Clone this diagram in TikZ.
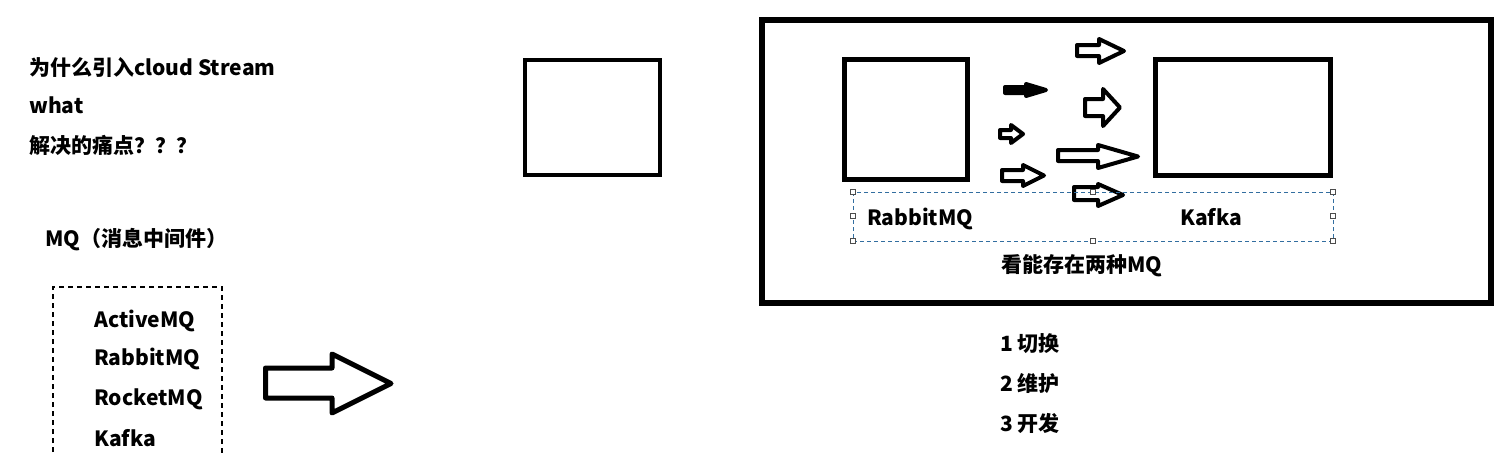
\documentclass[tikz,border=0pt]{standalone}
\usepackage{fontspec}
\setmainfont{Noto Sans CJK SC}
\definecolor{selblue}{RGB}{50,110,160}
\newcommand\blkarrow[8][]{% left, headbase, tip, shafttop, shaftbottom, headtop, headbottom
  \draw[arr,#1] (#2,#5) -- (#3,#5) -- (#3,#7) -- (#4,{(#7+#8)/2}) -- (#3,#8) -- (#3,#6) -- (#2,#6) -- cycle;}
\begin{document}
\begin{tikzpicture}[x=1pt,y=-1pt,
  txt/.style={anchor=west,inner sep=0pt,font=\bfseries\fontsize{21}{21}\selectfont},
  boxed/.style={draw,line width=5pt,inner sep=0pt},
  arr/.style={draw,line width=4pt,line join=round,fill=white},
  handle/.style={draw=gray!60!black,fill=white,line width=0.6pt,minimum size=5pt,inner sep=0pt}]
\useasboundingbox (0,0) rectangle (1506,453);
% left texts
\node[txt] (t1) at (29,67) {为什么引入cloud Stream};
\node[txt] (t2) at (29,105) {what};
\node[txt] (t3) at (29,145) {解决的痛点？？？};
\node[txt] (t4) at (45,240) {MQ（消息中间件）};
\draw[line width=1.2pt,dash pattern=on 5pt off 4pt] (53,470) -- (53,287) -- (222,287) -- (222,470);
\node[txt] (m1) at (94,321) {ActiveMQ};
\node[txt] (m2) at (94,359) {RabbitMQ};
\node[txt] (m3) at (94,399) {RocketMQ};
\node[txt] (m4) at (94,438) {Kafka};
\blkarrow[line width=5pt]{265.5}{332}{391}{368}{398}{354}{413}
% middle square
\node[boxed,line width=4.5pt,minimum width=135pt,minimum height=115pt] (sq) at (592.5,117.5) {};
% big frame
\node[boxed,line width=6.5pt,minimum width=729pt,minimum height=283pt] (frame) at (1126.5,161.5) {};
\node[boxed,line width=5.5pt,minimum width=123pt,minimum height=120pt] (rb) at (906,119.5) {};
\node[boxed,line width=5.5pt,minimum width=175pt,minimum height=116pt] (kf) at (1243,117.5) {};
% arrows
\blkarrow{1077}{1099}{1124}{45}{56}{39}{63}
\blkarrow[fill=black]{1005}{1026}{1046}{87}{93}{84}{96}
\blkarrow{1085}{1103}{1120}{99}{116}{89}{126}
\blkarrow{1000}{1011}{1023}{130}{138}{125}{143}
\blkarrow{1058}{1098}{1138}{150}{161}{145}{168}
\blkarrow{1002}{1023}{1044}{170}{181}{165}{186}
\blkarrow{1074}{1098}{1123}{187}{200}{184}{206}
% selection box
\draw[selblue,line width=1pt,dash pattern=on 4pt off 3pt] (853,192) rectangle (1333,241);
\foreach \p in {(853,192),(853,216),(853,241),(1093,192),(1093,241),(1333,192),(1333,216),(1333,241)}
  \node[handle] at \p {};
\node[txt] (rl) at (867,219) {RabbitMQ};
\node[txt] (kl) at (1180,217) {Kafka};
\node[txt,anchor=center] (cap) at (1082,266) {看能存在两种MQ};
% list
\node[txt] (l1) at (1000,344) {1 切换};
\node[txt] (l2) at (1000,383) {2 维护};
\node[txt] (l3) at (1000,423) {3 开发};
\end{tikzpicture}
\end{document}
